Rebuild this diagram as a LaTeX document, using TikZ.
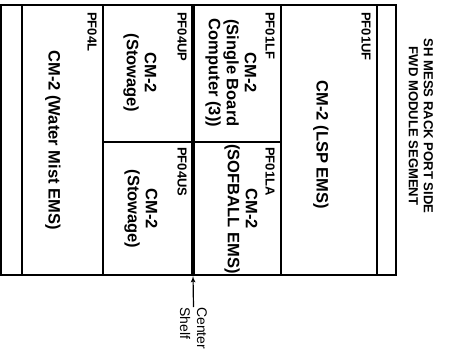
\documentclass[tikz,border=0pt]{standalone}
\usepackage{fontspec}
\setmainfont{Liberation Sans}
\usepackage{tikz}
\usetikzlibrary{arrows,positioning}
\tikzstyle{slotlabel}=[rotate=-90, anchor=west, inner sep=0pt, font=\bfseries\fontsize{13}{15}\selectfont]
\tikzstyle{slottext}=[rotate=-90, align=center, inner sep=0pt, font=\bfseries\fontsize{16.5}{18}\selectfont]
\tikzstyle{rackline}=[line width=1.1pt]
\tikzstyle{shelfline}=[line width=3.6pt]
\tikzstyle{shelfarrow}=[->, >=latex', line width=1.2pt]

\begin{document}
\begin{tikzpicture}[x=1pt, y=-1pt]
    \useasboundingbox (0,0) rectangle (449,361);

    % Rahmen und Fächer
    \draw[rackline] (1,5) rectangle (396,275);
    \draw[rackline] (22,5) -- (22,275);
    \draw[rackline] (103,5) -- (103,275);
    \draw[rackline] (281,5) -- (281,275);
    \draw[rackline] (377,5) -- (377,275);
    \draw[rackline] (103,142) -- (281,142);
    \draw[shelfline] (193,5) -- (193,275);

    % PF04
    \node[slotlabel] (pf04l) at (92, 12) {PF04L};
    \node[slottext] (cm04l) at (53, 140) {CM-2 (Water Mist EMS)};
    \node[slotlabel] (pf04up) at (182, 12) {PF04UP};
    \node[slottext] (cm04up) at (140, 73) {CM-2\\(Stowage)};
    \node[slotlabel] (pf04us) at (182, 147) {PF04US};
    \node[slottext] (cm04us) at (141, 209) {CM-2\\(Stowage)};

    % PF01
    \node[slotlabel] (pf01lf) at (270, 12) {PF01LF};
    \node[slottext] (cm01lf) at (231, 73) {CM-2\\(Single Board\\Computer (3))};
    \node[slotlabel] (pf01la) at (270, 147) {PF01LA};
    \node[slottext] (cm01la) at (241, 209) {CM-2\\(SOFBALL EMS)};
    \node[slotlabel] (pf01uf) at (366, 12) {PF01UF};
    \node[slottext] (cm01uf) at (321, 145) {CM-2 (LSP EMS)};

    % Titel
    \node[rotate=-90, align=center, inner sep=0pt, font=\bfseries\fontsize{13.1}{15}\selectfont]
         (title) at (421, 126) {SH MESS RACK PORT SIDE\\FWD MODULE SEGMENT};

    % Mittelboden
    \coordinate (shelfpt) at (193, 276);
    \node[rotate=-90, anchor=west, align=left, inner sep=0pt, font=\fontsize{14}{17}\selectfont]
         (shelf) at (193.5, 307) {Center\\Shelf};
    \draw[shelfarrow] (shelf.west) -- (shelfpt);
\end{tikzpicture}
\end{document}
